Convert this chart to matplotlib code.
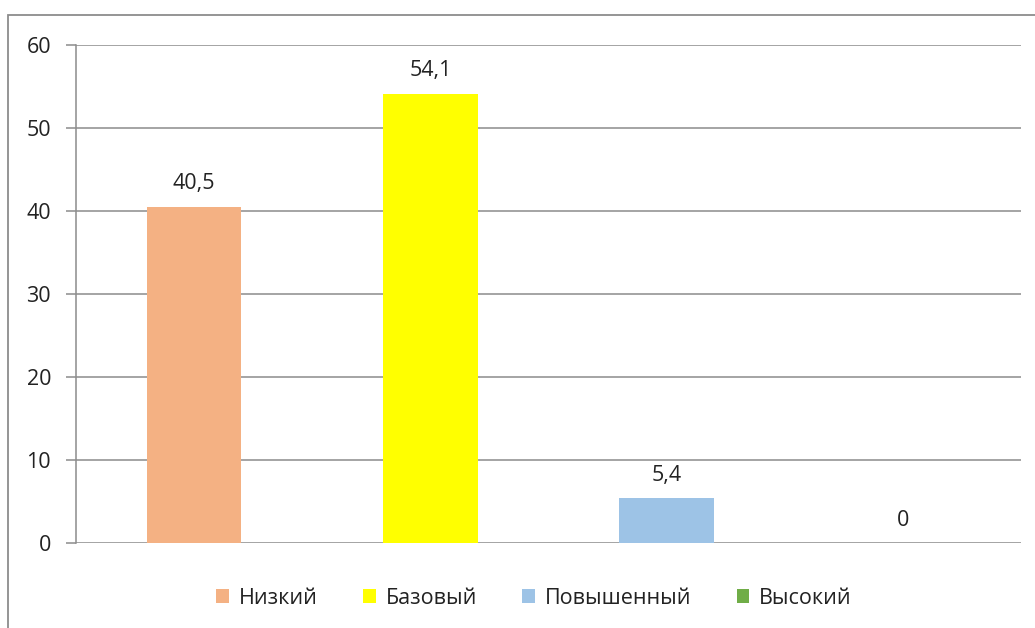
import matplotlib
matplotlib.use("Agg")
from matplotlib import pyplot as plt
from matplotlib.patches import Patch, Rectangle

# данные
categories = ["Низкий", "Базовый", "Повышенный", "Высокий"]
values = [40.5, 54.1, 5.4, 0]
value_labels = ["40,5", "54,1", "5,4", "0"]
colors = ["#F4B183", "#FFFF00", "#9DC3E6", "#70AD47"]

plt.rcParams['font.family'] = ['Open Sans', 'DejaVu Sans']

fig = plt.figure(figsize=(10.35, 6.28), dpi=100)
ax = fig.add_axes([76 / 1035, 1 - 543 / 628, 945 / 1035, 498 / 628])

# рамка вокруг диаграммы
fig.patches.append(Rectangle((8 / 1035, -0.1), 1.2, 1 - 15 / 628 + 0.1,
                             transform=fig.transFigure, fill=False,
                             edgecolor="#8c8c8c", linewidth=1.3))

x = list(range(len(categories)))
ax.bar(x, values, width=0.4, color=colors, zorder=3)

for xi, v, lab in zip(x, values, value_labels):
    ax.annotate(lab, (xi, v), xytext=(0, 9), textcoords="offset points",
                ha="center", va="bottom", fontsize=15.5, color="#222222")

ax.set_xlim(-0.5, 3.5)
ax.set_ylim(0, 60)
ax.set_yticks(range(0, 61, 10))
ax.set_xticks([])
ax.yaxis.grid(True, color="#8c8c8c", linewidth=1.1, zorder=0)
ax.set_axisbelow(True)
for s in ["top", "right", "bottom"]:
    ax.spines[s].set_visible(False)
ax.spines["left"].set_color("#8c8c8c")
ax.spines["left"].set_linewidth(1.1)
ax.tick_params(axis="y", length=7, width=1.1, color="#8c8c8c",
               labelsize=15.5, labelcolor="#222222", pad=11)

handles = [Patch(facecolor=c, edgecolor="none") for c in colors]
fig.legend(handles, categories, loc="center", bbox_to_anchor=(0.516, 1 - 598 / 628),
           ncol=4, frameon=False, fontsize=15.5, handlelength=0.6, handleheight=0.6,
           handletextpad=0.45, columnspacing=2.1, labelcolor="#222222")

fig.savefig("out.png", dpi=100)
